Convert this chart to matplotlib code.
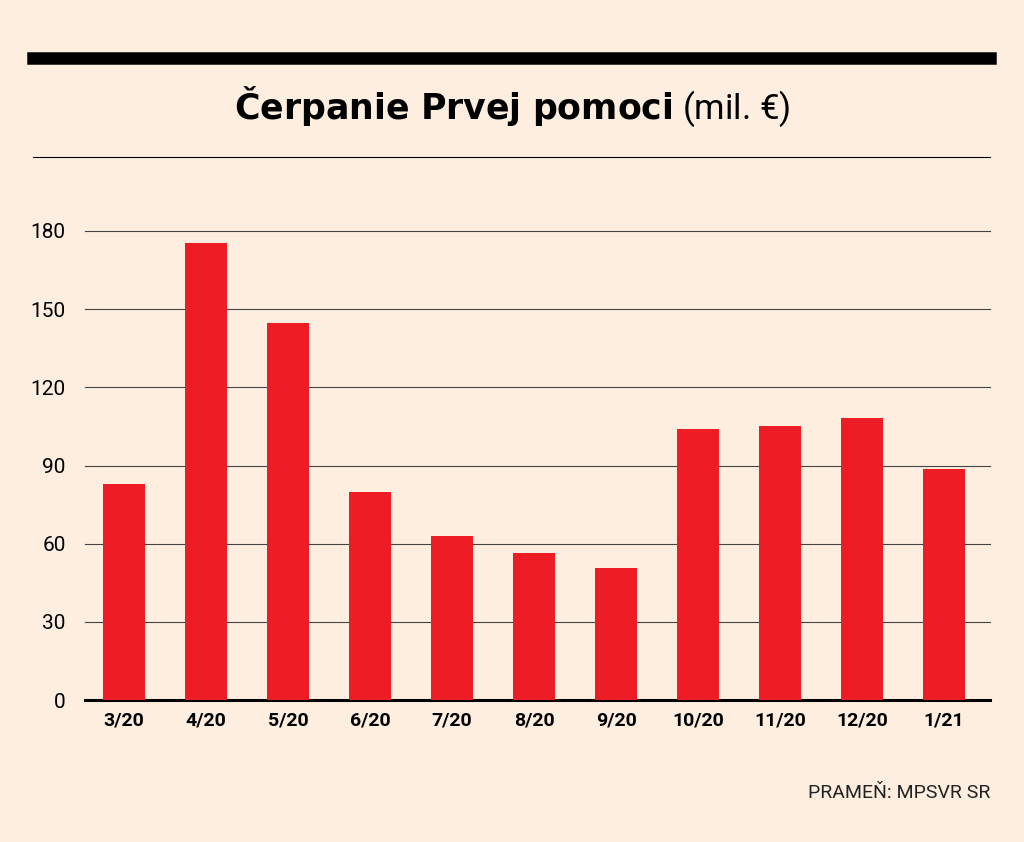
import matplotlib
matplotlib.use("Agg")
import matplotlib.pyplot as plt

categories = ["3/20","4/20","5/20","6/20","7/20","8/20","9/20","10/20","11/20","12/20","1/21"]
values = [83, 175.4, 144.7, 79.8, 62.9, 56.4, 50.7, 104, 105.1, 108.2, 88.6]
yticks = [0, 30, 60, 90, 120, 150, 180]

bg = "#FDEEE0"
fig = plt.figure(figsize=(10.24, 8.42), dpi=100, facecolor=bg)
ax = fig.add_axes([85/1024, 1-700/842, 905/1024, 469/842], facecolor=bg)
x = list(range(len(categories)))
ax.bar(x, values, width=0.51, color="#EE1C25", zorder=3)
ax.set_xlim(-0.476, 10.56)
ax.set_ylim(0, 180)
ax.set_yticks(yticks)
ax.set_yticklabels([str(t) for t in yticks], fontsize=15, family="Roboto")
ax.set_xticks(x)
ax.set_xticklabels(categories, fontsize=14, fontweight="bold", family="Roboto")
for t in yticks[1:]:
    ax.axhline(t, color="#444444", lw=0.8, zorder=1, clip_on=False)
for s in ["top", "right", "left"]:
    ax.spines[s].set_visible(False)
ax.spines["bottom"].set_linewidth(2.2)
ax.tick_params(axis="both", length=0, pad=8)
ax.tick_params(axis="y", pad=14)

fig.add_artist(plt.Line2D([33/1024, 990/1024], [1-58/842]*2, color="black", lw=9))
fig.add_artist(plt.Line2D([33/1024, 990/1024], [1-157/842]*2, color="black", lw=0.8))
fig.text(0.5, 1-107/842, r"$\bf{Čerpanie\ Prvej\ pomoci}$ (mil. €)", ha="center", va="center",
         fontsize=25, family="Roboto")
fig.text(990/1024, 1-793/842, "PRAMEŇ: MPSVR SR", ha="right", va="center", fontsize=14,
         family="Roboto", color="#222222")
fig.savefig("out.png", dpi=100, facecolor=bg)
